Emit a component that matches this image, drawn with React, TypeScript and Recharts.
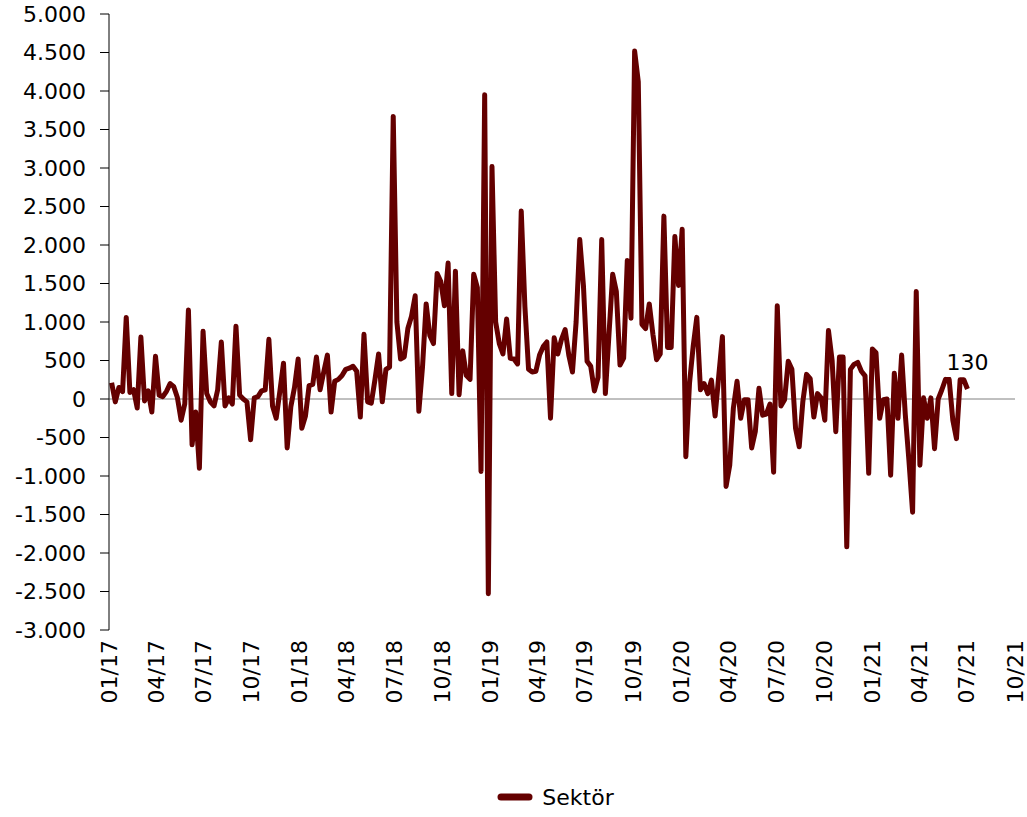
import React from "react";
import { LineChart, Line, XAxis, YAxis, ReferenceLine, Legend } from "recharts";

const LINE_COLOR = "#640000";
const FONT = "'DejaVu Sans', Verdana, sans-serif";
const DAY = 86400000;

// weekly values, first week ends 06.01.2017
const values2017 = [
  212, -37, 150, 95, 1060, 85, 120, -117, 805, -25,
  105, -170, 555, 50, 30, 100, 200, 160, 15, -275,
  -65, 1155, -595, -170, -900, 880, 70, -37, -90, 120,
  740, -90, 15, -65, 945, 50, 0, -37, -530, 15,
  30, 105, 120, 775, -90, -250, 100, 465, -635, -100,
  150, 520,
];
const values2018 = [
  -380, -220, 175, 190, 545, 120, 350, 570, -170, 230,
  255, 305, 385, 400, 425, 360, -235, 840, -37, -55,
  250, 585, -37, 385, 415, 3670, 1000, 520, 545, 915,
  1075, 1340, -160, 415, 1235, 825, 720, 1630, 1525, 1210,
  1765, 70, 1660, 55, 625, 305, 255, 1620, 1445, -940,
  3950, -2530,
];
const values2019 = [
  3020, 1000, 720, 585, 1040, 530, 520, 455, 2440, 1200,
  385, 350, 360, 570, 680, 740, -250, 795, 585, 775,
  900, 570, 350, 1000, 2070, 1475, 490, 425, 105, 280,
  2070, 70, 850, 1620, 1395, 440, 530, 1800, 1050, 4520,
  4120, 970, 915, 1235, 840, 510, 585, 2375, 670, 670,
  2110, 1475,
];
const values2020 = [
  2205, -750, 200, 680, 1060, 120, 200, 70, 245, -220,
  300, 810, -1135, -860, -117, 230, -250, -10, -10, -635,
  -420, 140, -210, -195, -65, -950, 1210, -90, -10, 490,
  385, -380, -620, -30, 320, 265, -235, 70, 15, -275,
  890, 500, -425, 545, 545, -1920, 385, 450, 475, 360,
  300, -965,
];
const values2021 = [
  650, 600, -250, -10, 0, -990, 335, -250, 570, -200,
  -800, -1470, 1395, -860, 15, -250, 15, -645, 0, 120,
  255, 255, -275, -515, 250, 250, 130,
];

const quarterLabels = [
  "01/17", "04/17", "07/17", "10/17",
  "01/18", "04/18", "07/18", "10/18",
  "01/19", "04/19", "07/19", "10/19",
  "01/20", "04/20", "07/20", "10/20",
  "01/21", "04/21", "07/21", "10/21",
];
const yTicks = [-3000, -2500, -2000, -1500, -1000, -500, 0, 500, 1000, 1500, 2000, 2500, 3000, 3500, 4000, 4500, 5000];

const firstWeek = Date.UTC(2017, 0, 6);
const series = [...values2017, ...values2018, ...values2019, ...values2020, ...values2021];
const data = series.map((value, i) => ({ t: firstWeek + i * 7 * DAY, value }));
const lastIndex = data.length - 1;

const quarterTimes = quarterLabels.map((s) => {
  const [m, y] = s.split("/");
  return Date.UTC(2000 + Number(y), Number(m) - 1, 1);
});

const fmtNumber = (n: number) => {
  const s = Math.abs(n).toString().replace(/\B(?=(\d{3})+(?!\d))/g, ".");
  return (n < 0 ? "-" : "") + s;
};

const fmtQuarter = (t: number) => {
  const d = new Date(t);
  const m = String(d.getUTCMonth() + 1).padStart(2, "0");
  const y = String(d.getUTCFullYear() % 100).padStart(2, "0");
  return `${m}/${y}`;
};

const QuarterTick = (props: any) => {
  const { x, y, payload } = props;
  return (
    <text
      transform={`translate(${x},${y}) rotate(-90)`}
      textAnchor="end"
      dominantBaseline="central"
      fontSize={22}
      fontFamily={FONT}
      fill="#000"
    >
      {fmtQuarter(payload.value)}
    </text>
  );
};

const LastLabel = (props: any) => {
  const { x, y, index, value } = props;
  if (index !== lastIndex) return null;
  return (
    <g>
      <rect x={x - 22} y={y - 37} width={44} height={25} fill="#fff" />
      <text x={x} y={y - 26} textAnchor="middle" dominantBaseline="central" fontSize={22} fontFamily={FONT} fill="#000">
        {fmtNumber(value)}
      </text>
    </g>
  );
};

const SeriesLegend = () => (
  <div
    style={{
      height: 40,
      display: "flex",
      justifyContent: "center",
      alignItems: "center",
      paddingLeft: 96,
      fontFamily: FONT,
      fontSize: 22,
      color: "#000",
    }}
  >
    <svg width={36} height={10}>
      <line x1={4} y1={5} x2={32} y2={5} stroke={LINE_COLOR} strokeWidth={7} strokeLinecap="round" />
    </svg>
    <span style={{ marginLeft: 9 }}>Sektör</span>
  </div>
);

export default function App() {
  return (
    <div style={{ position: "absolute", left: 0, top: 0, background: "#fff" }}>
      <LineChart width={1027} height={817} data={data} margin={{ top: 14, right: 12, left: 0, bottom: 0 }}>
        <XAxis
          dataKey="t"
          type="number"
          scale="time"
          domain={[quarterTimes[0], quarterTimes[quarterTimes.length - 1]]}
          ticks={quarterTimes}
          interval={0}
          axisLine={false}
          tickLine={false}
          tickSize={0}
          tickMargin={10}
          height={147}
          tick={<QuarterTick />}
        />
        <YAxis
          domain={[-3000, 5000]}
          ticks={yTicks}
          interval={0}
          width={109}
          tickSize={9}
          tickMargin={14}
          tickFormatter={fmtNumber}
          axisLine={{ stroke: "#000", strokeWidth: 1 }}
          tickLine={{ stroke: "#000", strokeWidth: 1 }}
          tick={{ fontSize: 22, fontFamily: FONT, fill: "#000" }}
        />
        <ReferenceLine y={0} stroke="#808080" strokeWidth={1} />
        <Legend verticalAlign="bottom" height={40} content={<SeriesLegend />} />
        <Line
          type="linear"
          dataKey="value"
          name="Sektör"
          stroke={LINE_COLOR}
          strokeWidth={5}
          strokeLinejoin="round"
          dot={false}
          activeDot={false}
          isAnimationActive={false}
          label={<LastLabel />}
        />
      </LineChart>
    </div>
  );
}
